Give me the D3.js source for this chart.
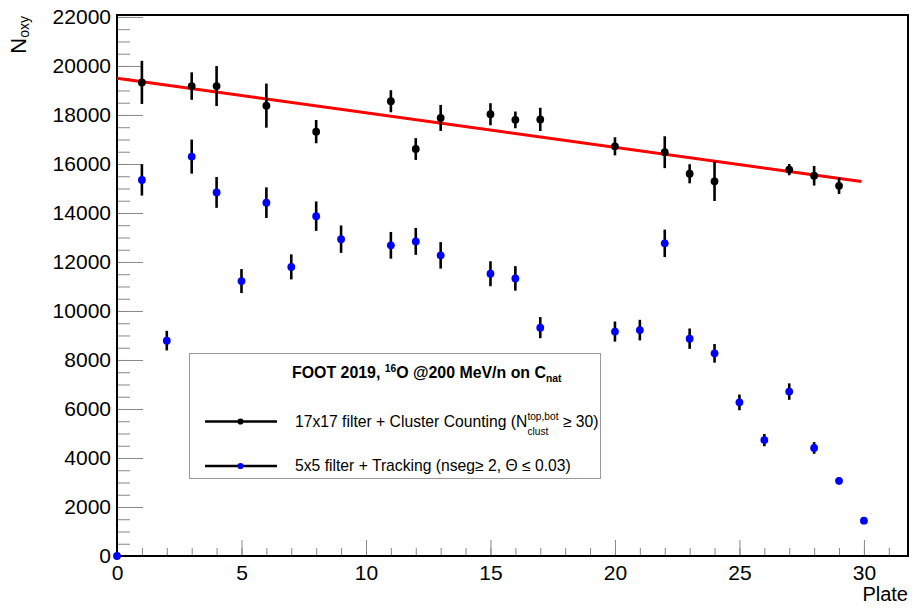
<!DOCTYPE html>
<html>
<head>
<meta charset="utf-8">
<script src="https://cdn.jsdelivr.net/npm/d3@7"></script>
<style>
body { margin: 0; background: #fff; }
svg { font-family: "Liberation Sans", Arial, Helvetica, sans-serif; }
</style>
</head>
<body>
<div class="chart"></div>
<script>
"use strict";
(function(){

// cluster counting series (black points)
var clusterPlates = [1, 3, 4, 6, 8, 11, 12, 13, 15, 16, 17, 20, 22, 23, 24, 27, 28, 29];
var clusterValues = [19330, 19180, 19180, 18380, 17320, 18560, 16610, 17880, 18030, 17800, 17820, 16720, 16480, 15600, 15290, 15770, 15520, 15110];
var clusterErrors = [880, 560, 816, 900, 475, 450, 445, 530, 450, 340, 475, 370, 650, 390, 800, 230, 400, 335];

// tracking series (blue points)
var trackPlates = [0, 1, 2, 3, 4, 5, 6, 7, 8, 9, 11, 12, 13, 15, 16, 17, 20, 21, 22, 23, 24, 25, 26, 27, 28, 29, 30];
var trackValues = [0, 15350, 8790, 16300, 14840, 11220, 14420, 11800, 13870, 12930, 12680, 12840, 12270, 11520, 11330, 9320, 9160, 9220, 12760, 8870, 8270, 6270, 4730, 6710, 4410, 3070, 1440];
var trackErrors = [0, 640, 400, 695, 630, 490, 625, 510, 600, 560, 545, 550, 540, 510, 500, 430, 410, 420, 560, 415, 380, 320, 250, 335, 240, 150, 100];

// straight line fit of the black points
var fitIntercept = 19500;
var fitSlope = -141;
var fitRange = [0, 29.9];

// ticks
var xTicks = [0, 5, 10, 15, 20, 25, 30];
var xMinorTicks = d3.range(0, 32, 1);
var yTicks = d3.range(0, 22001, 2000);
var yMinorTicks = d3.range(0, 22001, 500);

// legend texts
var legendTitle = [
  {text: "FOOT 2019, "},
  {text: "16", size: 0.65, shift: -6},
  {text: "O @200 MeV/n on C"},
  {text: "nat", size: 0.65, shift: 4}
];
var legendEntries = [
  {color: "black", runs: [
    {text: "17x17 filter + Cluster Counting (N"},
    {text: "top,bot", size: 0.65, shift: -7},
    {text: "clust", size: 0.65, shift: 8, stack: true},
    {text: " \u2265 30)"}
  ]},
  {color: "blue", runs: [
    {text: "5x5 filter + Tracking (nseg\u2265 2, \u0398 \u2264 0.03)"}
  ]}
];

var width = 912;
var height = 609;

var svg = d3.select('.chart')
            .append('svg')
            .attr('width', width)
            .attr('height', height);

var x = d3.scaleLinear().domain([0, 31.77]).range([117, 908]);
var y = d3.scaleLinear().domain([0, 22080]).range([556, 15]);

//minor ticks first so the major ones sit on top
svg.append('g')
   .attr('transform', 'translate(117,0)')
   .call(d3.axisLeft(y).tickValues(yMinorTicks).tickSize(-13).tickFormat(''))
   .call(function(g){ g.select('.domain').remove() })
   .selectAll('line').attr('stroke', '#888');

svg.append('g')
   .attr('transform', 'translate(0,556)')
   .call(d3.axisBottom(x).tickValues(xMinorTicks).tickSize(-8).tickFormat(''))
   .call(function(g){ g.select('.domain').remove() })
   .selectAll('line').attr('stroke', '#888');

var yAxis = svg.append('g')
   .attr('transform', 'translate(117,0)')
   .call(d3.axisLeft(y).tickValues(yTicks).tickSizeInner(-26).tickSizeOuter(0)
           .tickPadding(6).tickFormat(d3.format('d')));
yAxis.select('.domain').remove();
yAxis.selectAll('line').attr('stroke', '#888');
yAxis.selectAll('text').attr('font-size', 21).attr('fill', 'black')
     .attr('font-family', '"Liberation Sans", Arial, sans-serif');

var xAxis = svg.append('g')
   .attr('transform', 'translate(0,556)')
   .call(d3.axisBottom(x).tickValues(xTicks).tickSizeInner(-16).tickSizeOuter(0)
           .tickPadding(9));
xAxis.select('.domain').remove();
xAxis.selectAll('line').attr('stroke', '#888');
xAxis.selectAll('text').attr('font-size', 21).attr('fill', 'black')
     .attr('font-family', '"Liberation Sans", Arial, sans-serif');

//frame
svg.append('rect')
   .attr('x', x.range()[0]).attr('y', y.range()[1])
   .attr('width', x.range()[1] - x.range()[0])
   .attr('height', y.range()[0] - y.range()[1])
   .attr('fill', 'none')
   .attr('stroke', 'black')
   .attr('stroke-width', 2);

//axis titles
svg.append('text')
   .attr('x', 908).attr('y', 601)
   .attr('text-anchor', 'end')
   .attr('font-size', 20)
   .text('Plate');

var yTitle = svg.append('text')
   .attr('transform', 'translate(26,16) rotate(-90)')
   .attr('text-anchor', 'end')
   .attr('font-size', 22);
yTitle.append('tspan').text('N');
yTitle.append('tspan').attr('font-size', 14).attr('dy', 3).text('oxy');

//fit line
var fitLine = d3.line()
  .x(function(d){ return x(d) })
  .y(function(d){ return y(fitIntercept + fitSlope * d) });
svg.append('path')
   .datum(fitRange)
   .attr('d', fitLine)
   .attr('fill', 'none')
   .attr('stroke', '#ff0000')
   .attr('stroke-width', 3);

//points with vertical error bars
var drawSeries = function(plates, values, errors, color){
  var rows = plates.map(function(p, i){
    return {plate: p, value: values[i], err: errors[i]}
  });
  var g = svg.append('g');
  g.selectAll('.err')
   .data(rows.filter(function(d){ return d.err > 0 }))
   .enter().append('line')
   .attr('class', 'err')
   .attr('x1', function(d){ return x(d.plate) })
   .attr('x2', function(d){ return x(d.plate) })
   .attr('y1', function(d){ return y(d.value - d.err) })
   .attr('y2', function(d){ return y(d.value + d.err) })
   .attr('stroke', 'black')
   .attr('stroke-width', 2.6);
  g.selectAll('.dot')
   .data(rows)
   .enter().append('circle')
   .attr('class', 'dot')
   .attr('cx', function(d){ return x(d.plate) })
   .attr('cy', function(d){ return y(d.value) })
   .attr('r', 3.9)
   .attr('fill', color);
}

drawSeries(clusterPlates, clusterValues, clusterErrors, 'black');
drawSeries(trackPlates, trackValues, trackErrors, '#0000ff');

//rich text: runs placed one after another, "stack" runs go under the previous one
var drawRich = function(g, x0, y0, runs, size, bold){
  var cursor = x0;
  var lastStart = x0;
  var lastEnd = x0;
  runs.forEach(function(run){
    var start = run.stack ? lastStart : cursor;
    var t = g.append('text')
      .attr('x', start)
      .attr('y', y0 + (run.shift || 0))
      .attr('font-size', size * (run.size || 1))
      .attr('font-weight', bold ? 'bold' : 'normal')
      .style('white-space', 'pre')
      .text(run.text);
    var w = t.node().getComputedTextLength();
    if (run.stack) {
      cursor = Math.max(lastEnd, start + w);
    } else {
      lastStart = start;
      lastEnd = start + w;
      cursor = start + w;
    }
  });
}

//legend
var legend = svg.append('g');
legend.append('rect')
  .attr('x', 189.5).attr('y', 353.5)
  .attr('width', 411).attr('height', 125)
  .attr('fill', 'white')
  .attr('stroke', '#999')
  .attr('stroke-width', 1);

drawRich(legend, 292, 378, legendTitle, 15.9, true);

legendEntries.forEach(function(entry, i){
  var ly = 421.5 + i * 44.5;
  legend.append('line')
    .attr('x1', 205).attr('x2', 277)
    .attr('y1', ly).attr('y2', ly)
    .attr('stroke', 'black')
    .attr('stroke-width', 2.5);
  legend.append('circle')
    .attr('cx', 240.5).attr('cy', ly)
    .attr('r', 3.1)
    .attr('fill', entry.color);
  drawRich(legend, 295, ly + 5.2, entry.runs, 15.7, false);
});

})();
</script>
</body>
</html>
